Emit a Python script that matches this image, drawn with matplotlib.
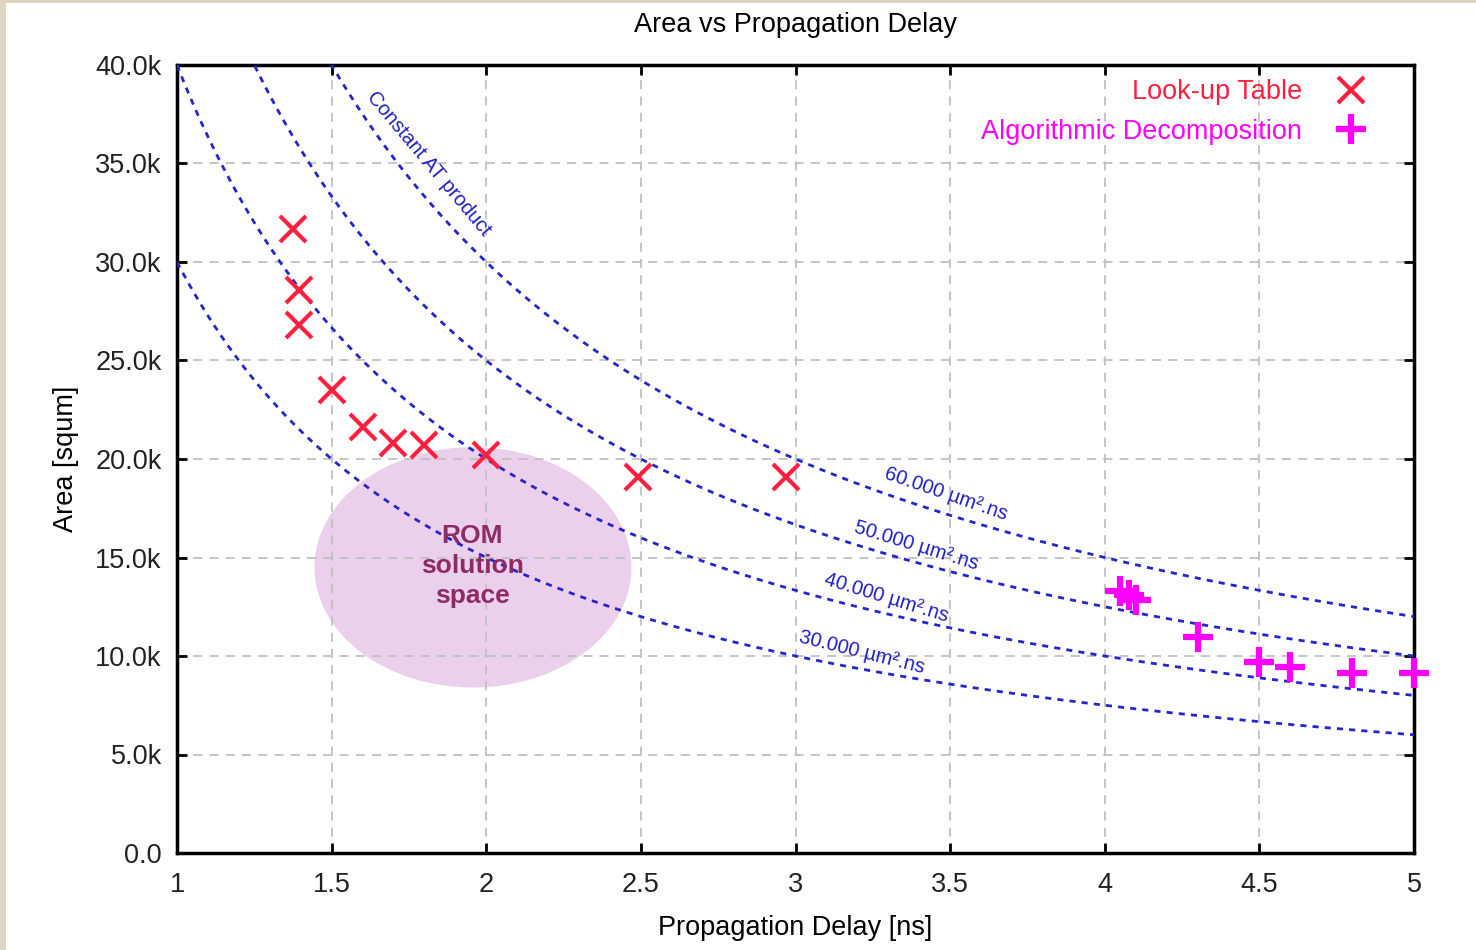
import numpy as np
import matplotlib
matplotlib.use("Agg")
from matplotlib import pyplot as plt
from matplotlib.patches import Ellipse, Rectangle

plt.rcParams['font.family'] = ['Liberation Sans', 'DejaVu Sans']

# Look-up Table points (delay ns, area squm)
lut_x = [1.375, 1.395, 1.395, 1.5, 1.6, 1.7, 1.8, 2.0, 2.49, 2.97]
lut_y = [31700, 28600, 26800, 23500, 21600, 20800, 20700, 20200, 19100, 19100]

# Algorithmic Decomposition points
alg_x = [4.05, 4.08, 4.10, 4.30, 4.50, 4.60, 4.80, 5.0]
alg_y = [13300, 13100, 12850, 10950, 9700, 9450, 9150, 9150]

# constant area-time products (um^2.ns)
at_products = [30000, 40000, 50000, 60000]
at_labels = ["30.000 µm².ns", "40.000 µm².ns", "50.000 µm².ns", "60.000 µm².ns"]
at_label_pos = [(3.215, 10200, -14), (3.293, 12940, -17), (3.39, 15600, -17), (3.487, 18200, -19)]

x_ticks = [1, 1.5, 2, 2.5, 3, 3.5, 4, 4.5, 5]
x_ticklabels = ["1", "1.5", "2", "2.5", "3", "3.5", "4", "4.5", "5"]
y_ticks = [0, 5000, 10000, 15000, 20000, 25000, 30000, 35000, 40000]
y_ticklabels = ["0.0", "5.0k", "10.0k", "15.0k", "20.0k", "25.0k", "30.0k", "35.0k", "40.0k"]

fig = plt.figure(figsize=(14.76, 9.5), dpi=100, facecolor="#ddd5c0")
fig.patches.append(Rectangle((6 / 1476, 0), 1, 1 - 3 / 950, transform=fig.transFigure,
                             facecolor="white", edgecolor="none", zorder=-10))
ax = fig.add_axes([177 / 1476, 1 - 853 / 950, (1414 - 177) / 1476, (853 - 65) / 950])

# ROM solution space
ax.add_patch(Ellipse((1.957, 14500), 1.025, 12200, facecolor="#ead0ea", edgecolor="none", zorder=0))
ax.text(1.955, 14550, "ROM\nsolution\nspace", ha="center", va="center", fontsize=19,
        fontweight="bold", color="#8e2a66", linespacing=1.32, zorder=5)

# constant AT curves
t = np.linspace(1, 5, 400)
for p in at_products:
    ax.plot(t, p / t, color="#2525cc", lw=2, linestyle=(0, (2.2, 2.2)), zorder=3)
for lab, (lx, ly, rot) in zip(at_labels, at_label_pos):
    ax.text(lx, ly, lab, color="#2020c0", fontsize=14.5, rotation=rot,
            ha="center", va="center", rotation_mode="anchor", zorder=4)
ax.text(1.815, 35000, "Constant AT product", color="#2020c0", fontsize=14.5, rotation=-50,
        ha="center", va="center", rotation_mode="anchor", zorder=4)

ax.plot(lut_x, lut_y, linestyle="none", marker="x", ms=19, mew=3, color="#ff2040",
        label="Look-up Table", zorder=6)
ax.plot(alg_x, alg_y, linestyle="none", marker="+", ms=21, mew=4.5, color="#ff00ff",
        label="Algorithmic Decomposition", zorder=6, clip_on=False)

ax.set_xlim(1, 5)
ax.set_ylim(0, 40000)
ax.set_xticks(x_ticks)
ax.set_xticklabels(x_ticklabels)
ax.set_yticks(y_ticks)
ax.set_yticklabels(y_ticklabels)
ax.tick_params(direction="in", length=7, width=2, labelsize=19.5, top=True, right=True,
               labelcolor="#222222")
ax.tick_params(axis="x", pad=14)
ax.tick_params(axis="y", pad=11)
ax.grid(True, color="#c0c0c0", linestyle=(0, (5, 4)), lw=1.3)
for s in ax.spines.values():
    s.set_linewidth(2.5)

ax.set_title("Area vs Propagation Delay", fontsize=19.5, pad=24)
ax.set_xlabel("Propagation Delay [ns]", fontsize=19.5, labelpad=12)
ax.set_ylabel("Area [squm]", fontsize=19.5, labelpad=12)

leg = ax.legend(loc="upper right", bbox_to_anchor=(0.986, 1.006), frameon=False,
                markerfirst=False, fontsize=19.5, labelcolor="linecolor",
                handletextpad=0.8, borderaxespad=0.3, labelspacing=0.5)

fig.savefig("out.png", dpi=100, facecolor=fig.get_facecolor())
